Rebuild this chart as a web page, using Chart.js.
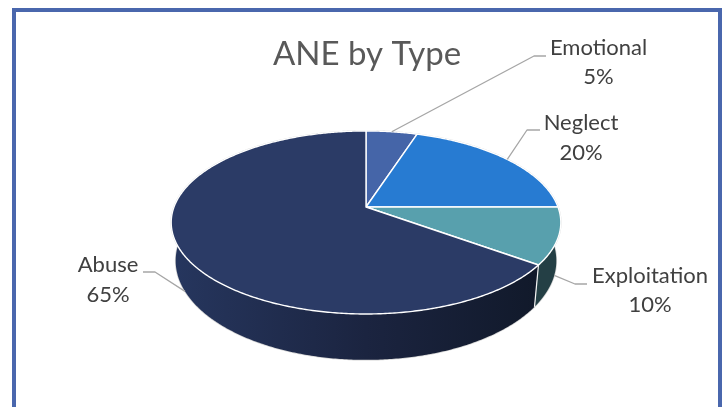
<!DOCTYPE html>
<html>
<head>
<meta charset="utf-8">
<title>ANE by Type</title>
<style>
  html, body { margin: 0; padding: 0; background: #fff; overflow: hidden; }
  #wrap { position: relative; width: 728px; height: 407px; overflow: hidden; }
  #frame { position: absolute; left: 12px; top: 8px; width: 702px; height: 420px; border: 4px solid #4a67ad; }
  #annePie { position: absolute; left: 0; top: 0; }
</style>
<script src="https://cdn.jsdelivr.net/npm/chart.js@4"></script>
</head>
<body>
<div id="wrap">
  <div id="frame"></div>
  <canvas id="annePie" width="728" height="407"></canvas>
</div>
<script>
// ============================
// DATA
// ============================

const types = ['Emotional', 'Neglect', 'Exploitation', 'Abuse'];
const shares = [5, 20, 10, 65];
const topColors = ['#4565a8', '#277bd2', '#58a0ad', '#2b3b66'];
const wallColors = ['#2a3d66', '#174a80', '#243f45', null];

// ============================
// 3D LOOK (perspective of the tilted disc)
// ============================

const cx = 366, cy = 207, radius = 192;
const tilt = 0.169, squash = 88.9;
const wallScaleX = 0.977, wallScaleY = 1.083, wallDrop = 37;

function project(angle) {
    const u = Math.cos(angle), v = Math.sin(angle);
    const d = 1 - tilt * v;
    return { x: radius * u / d, y: squash * v / d };
}

function onTop(angle) {
    const p = project(angle);
    return { x: cx + p.x, y: cy + p.y };
}

function onBottom(angle) {
    const p = project(angle);
    return { x: cx + p.x * wallScaleX, y: cy + p.y * wallScaleY + wallDrop };
}

function arcPoints(start, end, fn) {
    const pts = [];
    const n = Math.max(2, Math.ceil((end - start) / 0.01));
    for (let i = 0; i <= n; i++) {
        pts.push(fn(start + (end - start) * i / n));
    }
    return pts;
}

function tracePoly(ctx, pts) {
    ctx.beginPath();
    pts.forEach((p, i) => i ? ctx.lineTo(p.x, p.y) : ctx.moveTo(p.x, p.y));
    ctx.closePath();
}

// label text, leader elbow and leader end for every slice
const labelLayout = [
    { x: 598.5, y: 55, gap: 29, elbow: [534, 56], end: [546, 56], wall: false },
    { x: 581, y: 130, gap: 30, elbow: [527, 130], end: [540, 130], wall: false },
    { x: 650, y: 283, gap: 29, elbow: [575, 284], end: [587, 284], wall: true },
    { x: 108, y: 272, gap: 30, elbow: [155, 272], end: [143, 272], wall: true }
];

const pie3d = {
    id: 'pie3d',
    beforeDatasetsDraw(chart) {
        const ctx = chart.ctx;
        const arcs = chart.getDatasetMeta(0).data;

        ctx.save();
        ctx.lineJoin = 'round';

        // outer halo of the whole solid
        const all = arcPoints(-Math.PI / 2, Math.PI * 1.5, onBottom);
        tracePoly(ctx, all);
        ctx.strokeStyle = 'rgba(200,200,200,.8)';
        ctx.lineWidth = 1.5;
        ctx.stroke();
        tracePoly(ctx, arcPoints(-Math.PI / 2, Math.PI * 1.5, onTop));
        ctx.stroke();

        // side walls
        arcs.forEach((arc, i) => {
            const up = arcPoints(arc.startAngle, arc.endAngle, onTop);
            const low = arcPoints(arc.startAngle, arc.endAngle, onBottom).reverse();
            let fill = wallColors[i];
            if (!fill) {
                fill = ctx.createLinearGradient(cx - radius, 0, cx + radius, 0);
                fill.addColorStop(0, '#26365e');
                fill.addColorStop(0.5, '#1b2440');
                fill.addColorStop(1, '#101828');
            }
            tracePoly(ctx, up.concat(low));
            ctx.fillStyle = fill;
            ctx.fill();
        });

        // wall edges
        ctx.strokeStyle = '#f4f4f4';
        ctx.lineWidth = 1.2;
        arcs.forEach(arc => {
            const a = onTop(arc.startAngle), b = onBottom(arc.startAngle);
            if (Math.sin(arc.startAngle) > 0.2) {
                ctx.beginPath();
                ctx.moveTo(a.x, a.y);
                ctx.lineTo(b.x, b.y);
                ctx.stroke();
            }
        });

        // top face
        arcs.forEach((arc, i) => {
            const pts = arcPoints(arc.startAngle, arc.endAngle, onTop);
            pts.unshift({ x: cx, y: cy });
            tracePoly(ctx, pts);
            ctx.fillStyle = topColors[i];
            ctx.fill();
            ctx.strokeStyle = '#ffffff';
            ctx.lineWidth = 1.4;
            ctx.stroke();
        });

        // leaders and labels
        ctx.font = '22px Lato';
        ctx.textAlign = 'center';
        ctx.textBaseline = 'alphabetic';
        arcs.forEach((arc, i) => {
            const l = labelLayout[i];
            const mid = (arc.startAngle + arc.endAngle) / 2;
            const from = l.wall ? onBottom(mid) : onTop(mid);
            ctx.beginPath();
            ctx.moveTo(from.x, from.y);
            ctx.lineTo(l.elbow[0], l.elbow[1]);
            ctx.lineTo(l.end[0], l.end[1]);
            ctx.strokeStyle = '#a6a6a6';
            ctx.lineWidth = 1.3;
            ctx.stroke();

            ctx.fillStyle = '#404040';
            ctx.fillText(types[i], l.x, l.y);
            ctx.fillText(shares[i] + '%', l.x, l.y + l.gap);
        });

        ctx.restore();
        return false;
    }
};

// ============================
// ANE BY TYPE
// ============================

const pieCtx = document.getElementById('annePie');

new Chart(pieCtx, {

    type: 'pie',

    data: {

        labels: types,

        datasets: [{

            data: shares,
            backgroundColor: topColors

        }]

    },

    options: {

        responsive: false,
        animation: false,

        layout: {
            padding: { left: 6 }
        },

        plugins: {

            legend: {
                display: false
            },

            tooltip: {
                enabled: false
            },

            title: {
                display: true,
                text: 'ANE by Type',
                color: '#595959',
                font: { family: 'Lato', size: 33, weight: 'normal' },
                padding: { top: 35, bottom: 0 }
            }

        }

    },

    plugins: [pie3d]

});
</script>
</body>
</html>
